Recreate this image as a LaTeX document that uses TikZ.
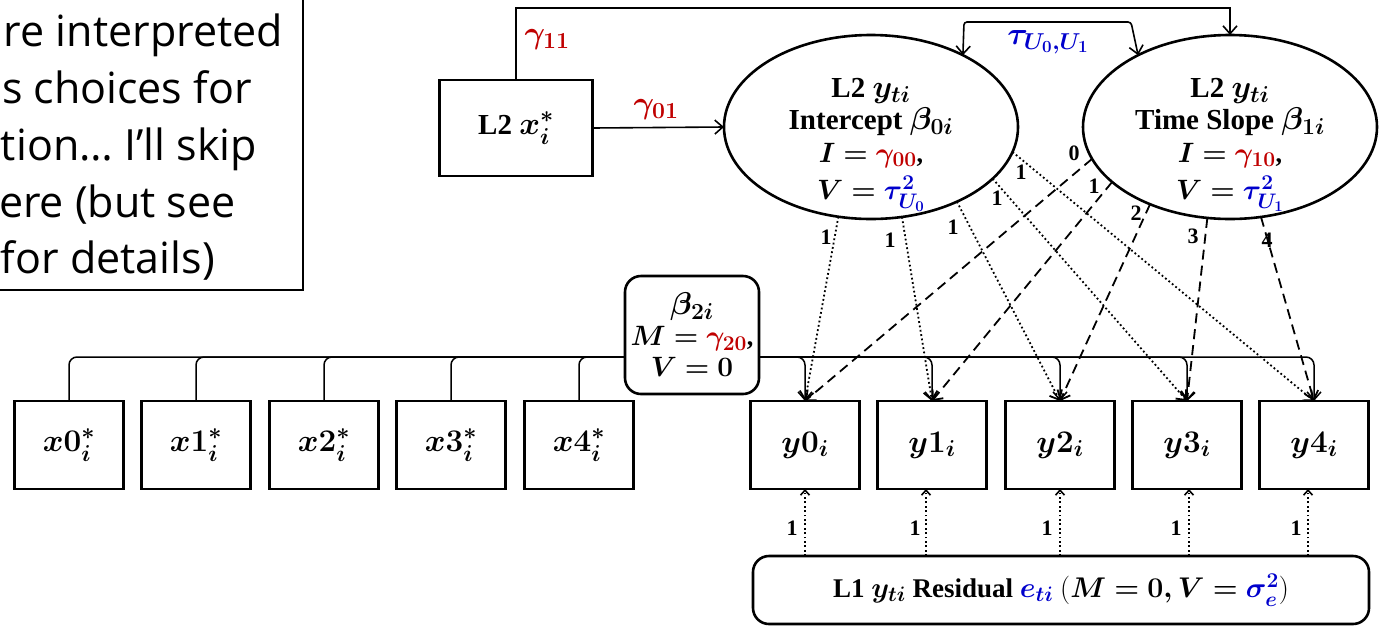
\RequirePackage{fix-cm}
\documentclass[tikz,border=0pt]{standalone}
\usepackage{amsmath}
\usepackage{fontspec}
\setmainfont{Liberation Serif}
\newfontfamily\uifont{Open Sans}
\usetikzlibrary{arrows.meta,shapes.geometric}
\definecolor{gred}{RGB}{192,0,0}
\definecolor{tblue}{RGB}{0,0,204}
\DeclareMathSizes{29}{31.5}{23}{17}
\DeclareMathSizes{26}{28}{21}{15}
\DeclareMathSizes{27}{28.5}{21}{15}
\newcommand{\fsmain}{\fontsize{29}{32}\selectfont\bfseries\boldmath}
\newcommand{\fssmall}{\fontsize{26}{32}\selectfont\bfseries\boldmath\thickmuskip=4.5mu}
\newcommand{\fsres}{\fontsize{27}{30}\selectfont\bfseries\boldmath}
\newcommand{\fsnum}{\fontsize{22}{24}\selectfont\bfseries\boldmath}
\newcommand{\cred}[1]{{\color{gred}#1}}
\newcommand{\cblue}[1]{{\color{tblue}#1}}
\begin{document}
\begin{tikzpicture}[x=1pt,y=-1pt,
  every node/.style={inner sep=0pt,outer sep=0pt},
  varbox/.style={draw,line width=2.6pt,minimum width=109pt,minimum height=88pt,font=\fsmain},
  latent/.style={draw,ellipse,line width=2.6pt,minimum width=294pt,minimum height=184pt},
  ltext/.style={align=center,font=\fsmain},
  rbox/.style={draw,line width=2.6pt,rounded corners=16pt},
  conn/.style={line width=1.6pt},
  tip/.style={-{Straight Barb[length=8pt,width=14pt]}},
  stip/.style={-{Straight Barb[length=5pt,width=9pt]}},
  dotl/.style={line width=1.8pt,dash pattern=on 1.8pt off 2.6pt},
  dashl/.style={line width=1.8pt,dash pattern=on 10pt off 6pt},
  num/.style={font=\fsnum},
  lbl/.style={font=\fsmain},
  uitext/.style={anchor=base west,font=\uifont\fontsize{43}{50}\selectfont}
]
\useasboundingbox (0,0) rectangle (1381,625);

% left clipped text box
\draw[line width=1.3pt] (-10,-10) rectangle (303,290);
\node[uitext] (t1) at (4,46) {re interpreted};
\node[uitext] (t2) at (2,103) {s choices for};
\node[uitext] (t3) at (1,160) {tion\dots\ I’ll skip};
\node[uitext] (t4) at (-1,217) {ere (but see};
\node[uitext] (t5) at (1,273) {for details)};

% level-2 nodes
\node[varbox,minimum width=153pt,minimum height=96pt] (l2x) at (516,128) {L2 $x_i^*$};
\node[latent] (int) at (871,127) {};
\node[ltext] (intT) at (871,145) {L2 $y_{ti}$\\ Intercept $\beta_{0i}$\\[1pt]
  {\fssmall $I=\cred{\gamma_{00}}$,}\\[5pt] {\fssmall $V=\cblue{\tau^2_{U_0}}$}};
\node[latent] (slo) at (1230,127) {};
\node[ltext] (sloT) at (1230,145) {L2 $y_{ti}$\\ Time Slope $\beta_{1i}$\\[1pt]
  {\fssmall $I=\cred{\gamma_{10}}$,}\\[5pt] {\fssmall $V=\cblue{\tau^2_{U_1}}$}};

% beta2 box
\node[rbox,minimum width=134pt,minimum height=118pt,align=center,font=\fsmain] (b2) at (692,335)
  {$\beta_{2i}$\\[-1pt] {\fssmall $M=\cred{\gamma_{20}}$,}\\[-1pt] {\fssmall $V=0$}};
\coordinate (bL) at (624,357);
\coordinate (bR) at (760,357);

% observed boxes
\node[varbox] (x0) at (69,445) {$x0_i^*$};
\node[varbox] (x1) at (196,445) {$x1_i^*$};
\node[varbox] (x2) at (324,445) {$x2_i^*$};
\node[varbox] (x3) at (451,445) {$x3_i^*$};
\node[varbox] (x4) at (579,445) {$x4_i^*$};
\node[varbox] (y0) at (805,445) {$y0_i$};
\node[varbox] (y1) at (932,445) {$y1_i$};
\node[varbox] (y2) at (1060,445) {$y2_i$};
\node[varbox] (y3) at (1187,445) {$y3_i$};
\node[varbox] (y4) at (1314,445) {$y4_i$};

% residual
\node[rbox,minimum width=616pt,minimum height=68pt,font=\fsres] (res) at (1061,590)
  {\raisebox{-8pt}{\thickmuskip=4.5mu\medmuskip=2mu L1 $y_{ti}$ Residual $\cblue{e_{ti}}$ {\unboldmath$($}$M=0,V=\cblue{\sigma^2_e}${\unboldmath$)$}}};

% gamma paths
\coordinate (top) at (516,8);
\draw[conn,tip] (l2x.north) -- (top) -| (slo.north);
\node[lbl] (g11) at (547,40) {$\cred{\gamma_{11}}$};
\draw[conn,tip] (l2x.east) -- (int.west);
\node[lbl] (g01) at (656,110) {$\cred{\gamma_{01}}$};

% covariance
\coordinate (cvL) at (964,22);
\coordinate (cvR) at (1131,22);
\draw[conn,{Straight Barb[length=8pt,width=14pt]}-{Straight Barb[length=8pt,width=14pt]},rounded corners=3pt]
  (int.38) -- (cvL) -- (cvR) -- (slo.142);
\node[lbl] (tau) at (1048,42) {$\cblue{\tau_{U_0,U_1}}$};

% beta2 connectors
\foreach \n in {x0,x1,x2,x3,x4}
  \draw[conn,line width=1.5pt,rounded corners=8pt] (\n.north) |- (bL);
\foreach \n in {y0,y1,y2,y3,y4}
  \draw[conn,line width=1.5pt,tip,rounded corners=8pt] (bR) -| (\n.north);

% intercept loadings (dotted)
\draw[dotl,tip] (int.250) -- (y0.north);
\draw[dotl,tip] (int.289) -- (y1.north);
\draw[dotl,tip] (int.319) -- (y2.north);
\draw[dotl,tip] (int.337) -- (y3.north);
\draw[dotl,tip] (int.350) -- (y4.north);
\node[num] (i0) at (826,237) {1};
\node[num] (i1) at (890,240) {1};
\node[num] (i2) at (953,227) {1};
\node[num] (i3) at (997,198) {1};
\node[num] (i4) at (1021,172) {1};

% slope loadings (dashed)
\draw[dashl,tip] (slo.193) -- (y0.north);
\draw[dashl,tip] (slo.205) -- (y1.north);
\draw[dashl,tip] (slo.224) -- (y2.north);
\draw[dashl,tip] (slo.256) -- (y3.north);
\draw[dashl,tip] (slo.289) -- (y4.north);
\node[num] (s0) at (1074,153) {0};
\node[num] (s1) at (1094,186) {1};
\node[num] (s2) at (1136,213) {2};
\node[num] (s3) at (1193,236) {3};
\node[num] (s4) at (1267,240) {4};

% residual arrows
\foreach \n/\d in {y0/0,y1/-6,y2/0,y3/2,y4/-6}
  \draw[dotl,line width=1.6pt,stip] ([xshift=\d pt]\n.south |- res.north) -- ([xshift=\d pt]\n.south);
\node[num] (r0) at (792,528) {1};
\node[num] (r1) at (915,528) {1};
\node[num] (r2) at (1047,528) {1};
\node[num] (r3) at (1176,528) {1};
\node[num] (r4) at (1296,528) {1};
\end{tikzpicture}
\end{document}
